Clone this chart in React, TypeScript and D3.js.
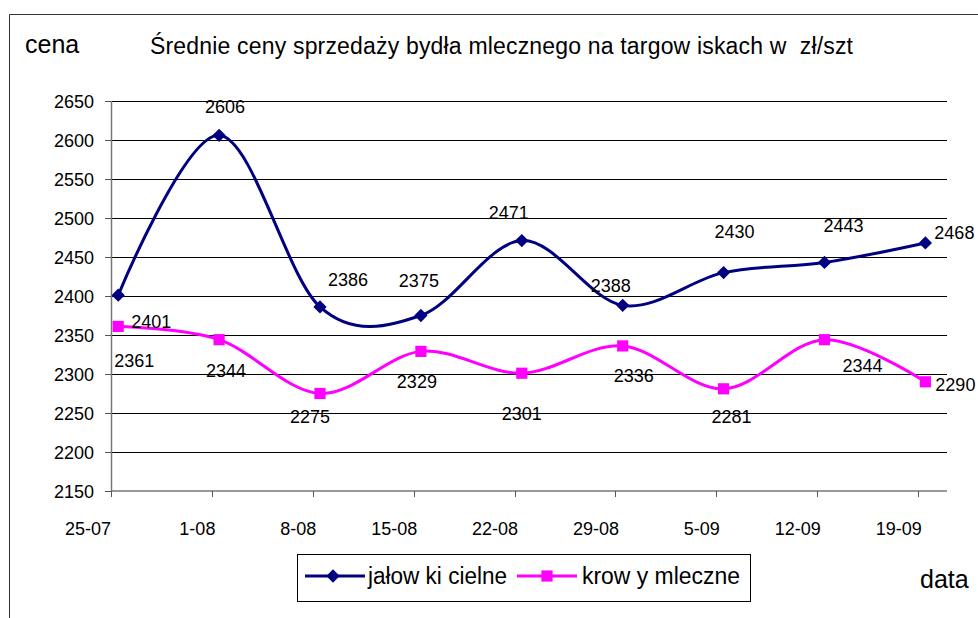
import React from 'react';
import * as d3 from 'd3';

const dates = ["25-07", "1-08", "8-08", "15-08", "22-08", "29-08", "5-09", "12-09", "19-09"];
const jalowki = [2401, 2606, 2386, 2375, 2471, 2388, 2430, 2443, 2468];
const krowy = [2361, 2344, 2275, 2329, 2301, 2336, 2281, 2344, 2290];
const yTicks = [2150, 2200, 2250, 2300, 2350, 2400, 2450, 2500, 2550, 2600, 2650];
const seriesNames = ["jałow ki cielne", "krow y mleczne"];
const titleText = "Średnie ceny sprzedaży bydła mlecznego na targow iskach w  zł/szt";
const yAxisTitle = "cena";
const xAxisTitle = "data";

// label placement offsets (style only), relative to each point
const jalowkiLabelOffsets = [[33, 33], [6, -22], [28, -21], [-2, -29], [-13, -22], [-12, -13], [11, -35], [19, -30], [29, -4]];
const krowyLabelOffsets = [[16, 41], [7, 37], [-10, 29], [-4, 37], [0, 47], [11, 36], [8, 34], [38, 32], [30, 9]];

const FONT = '"Liberation Sans", Arial, sans-serif';

export default function App() {
  const W = 978, H = 618;
  const parse = d3.utcParse("%d-%m-%Y");
  const dt = dates.map(d => parse(d + "-2008") as Date);
  const x = d3.scaleUtc().domain([dt[0], d3.utcDay.offset(dt[0], 58)]).range([111, 947]);
  const y = d3.scaleLinear().domain([2150, 2650]).range([491, 101]);
  const px = (i: number) => x(d3.utcHour.offset(dt[i], 12));
  const line = d3.line<number>().x((_, i) => px(i)).y(v => y(v)).curve(d3.curveCardinal.tension(0));
  const diamond = d3.symbol().type(d3.symbolSquare).size(88)();
  const square = d3.symbol().type(d3.symbolSquare).size(125)();
  const blue = "#000080", pink = "#FF00FF";
  const [x0, x1] = x.range();

  return (
    <svg width={W} height={H} style={{ position: 'absolute', left: 0, top: 0, background: '#fff' }} fontFamily={FONT}>
      <rect x={0} y={0} width={W} height={H} fill="#fff" />
      {/* outer border */}
      <path d={`M9.5,${H} V14.5 H${W}`} fill="none" stroke="#333" strokeWidth={1} />
      {/* gridlines */}
      {yTicks.filter(t => t !== 2150).map(t => (
        <line key={t} x1={x0} x2={x1} y1={Math.round(y(t)) + 0.5} y2={Math.round(y(t)) + 0.5} stroke="#000" strokeWidth={1} />
      ))}
      {/* y axis */}
      <line x1={111.5} x2={111.5} y1={101} y2={491} stroke="#777" strokeWidth={1.5} />
      {yTicks.map(t => (
        <g key={t}>
          <line x1={105} x2={111} y1={Math.round(y(t)) + 0.5} y2={Math.round(y(t)) + 0.5} stroke="#555" />
          <text x={94} y={y(t) + 6.5} textAnchor="end" fontSize={18} fill="#000">{t}</text>
        </g>
      ))}
      {/* x axis */}
      <line x1={x0} x2={x1} y1={491} y2={491} stroke="#777" strokeWidth={1.5} />
      {dt.map((d, i) => (
        <g key={i}>
          <line x1={Math.round(x(d)) + 0.5} x2={Math.round(x(d)) + 0.5} y1={491} y2={497} stroke="#555" />
          <text x={x(d) + (i === 0 ? 0 : 3.5)} y={535} textAnchor="end" fontSize={18} fill="#000">{dates[i]}</text>
        </g>
      ))}
      {/* series lines */}
      <path d={line(jalowki) || ''} fill="none" stroke={blue} strokeWidth={3} />
      <path d={line(krowy) || ''} fill="none" stroke={pink} strokeWidth={3} />
      {jalowki.map((v, i) => (
        <path key={'jm' + i} d={diamond || ''} transform={`translate(${px(i)},${y(v)}) rotate(45)`} fill={blue} />
      ))}
      {krowy.map((v, i) => (
        <path key={'km' + i} d={square || ''} transform={`translate(${px(i)},${y(v)})`} fill={pink} />
      ))}
      {/* data labels */}
      {jalowki.map((v, i) => (
        <text key={'jl' + i} x={px(i) + jalowkiLabelOffsets[i][0]} y={y(v) + jalowkiLabelOffsets[i][1]} textAnchor="middle" fontSize={18} fill="#000">{v}</text>
      ))}
      {krowy.map((v, i) => (
        <text key={'kl' + i} x={px(i) + krowyLabelOffsets[i][0]} y={y(v) + krowyLabelOffsets[i][1]} textAnchor="middle" fontSize={18} fill="#000">{v}</text>
      ))}
      {/* titles */}
      <text x={150} y={54} fontSize={23} fill="#000" textLength={703} lengthAdjust="spacing" style={{ whiteSpace: 'pre' }}>{titleText}</text>
      <text x={25} y={53} fontSize={25} fill="#000">{yAxisTitle}</text>
      <text x={920} y={588} fontSize={25} fill="#000">{xAxisTitle}</text>
      {/* legend */}
      <rect x={297.5} y={554.5} width={453} height={47} fill="#fff" stroke="#000" strokeWidth={1} />
      <line x1={305} x2={365} y1={576} y2={576} stroke={blue} strokeWidth={3} />
      <path d={diamond || ''} transform="translate(333,576) rotate(45)" fill={blue} />
      <text x={368} y={584} fontSize={23} fill="#000" textLength={139} lengthAdjust="spacingAndGlyphs" style={{ whiteSpace: 'pre' }}>{seriesNames[0]}</text>
      <line x1={517} x2={577} y1={576} y2={576} stroke={pink} strokeWidth={3} />
      <path d={square || ''} transform="translate(547,576)" fill={pink} />
      <text x={582} y={584} fontSize={23} fill="#000" textLength={158} lengthAdjust="spacingAndGlyphs" style={{ whiteSpace: 'pre' }}>{seriesNames[1]}</text>
    </svg>
  );
}
